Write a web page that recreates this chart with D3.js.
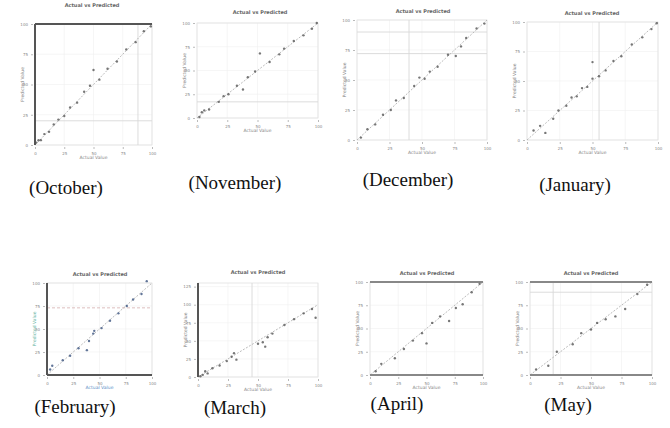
<!DOCTYPE html>
<html>
<head>
<meta charset="utf-8">
<script src="https://cdn.jsdelivr.net/npm/d3@7"></script>
<style>
  body { margin: 0; background: #fff; }
  svg { display: block; }
</style>
</head>
<body>
<div id="chart"></div>
<script>
// Month captions
const months = ["October", "November", "December", "January", "February", "March", "April", "May"];

const octActual = [1, 3, 5, 8, 12, 16, 20, 25, 30, 36, 42, 47, 50, 55, 62, 70, 78, 86, 93, 99];
const octPred   = [2, 4, 4, 9, 11, 17, 21, 24, 31, 35, 44, 49, 62, 54, 63, 69, 79, 85, 94, 98];
const novActual = [2, 4, 6, 10, 18, 22, 26, 33, 38, 42, 48, 52, 60, 68, 72, 80, 88, 95, 99];
const novPred   = [1, 6, 8, 9, 17, 23, 25, 34, 30, 43, 49, 68, 59, 67, 73, 81, 87, 94, 100];
const decActual = [3, 8, 14, 20, 26, 30, 36, 44, 48, 52, 56, 62, 70, 76, 80, 84, 92, 98];
const decPred   = [2, 9, 13, 21, 25, 33, 35, 45, 52, 51, 57, 61, 71, 70, 78, 85, 93, 97];
const janActual = [5, 10, 14, 20, 24, 30, 34, 38, 42, 46, 50, 50, 55, 60, 66, 72, 80, 88, 95, 99];
const janPred   = [8, 12, 6, 18, 25, 29, 36, 37, 44, 45, 52, 66, 54, 59, 67, 71, 81, 87, 94, 99];
const febActual = [3, 5, 15, 22, 30, 38, 40, 44, 45, 52, 60, 68, 76, 82, 90, 95];
const febPred   = [6, 10, 16, 21, 29, 27, 37, 45, 48, 51, 59, 67, 75, 82, 88, 104];
const marActual = [2, 4, 6, 8, 12, 18, 24, 28, 30, 32, 50, 54, 56, 58, 62, 72, 80, 88, 95, 98];
const marPred   = [1, 3, 8, 5, 12, 16, 22, 28, 33, 24, 46, 48, 42, 55, 60, 72, 80, 88, 94, 82];
const aprActual = [5, 10, 22, 30, 38, 46, 50, 55, 62, 70, 76, 82, 90, 97];
const aprPred   = [4, 12, 18, 28, 37, 45, 34, 56, 63, 58, 72, 76, 89, 98];
const mayActual = [5, 15, 22, 35, 42, 50, 55, 62, 70, 78, 88, 96];
const mayPred   = [6, 10, 25, 33, 45, 49, 56, 60, 63, 71, 87, 97];

const actuals = [octActual, novActual, decActual, janActual, febActual, marActual, aprActual, mayActual];
const preds   = [octPred, novPred, decPred, janPred, febPred, marPred, aprPred, mayPred];

// Tick labels on both axes
const tickVals = [0, 25, 50, 75, 100];
const marTickVals = [0, 25, 50, 75, 100, 125];

// Layout of each small panel
const panels = [
  { x0: 35,  x1: 152, y0: 24,  y1: 145, tx: 92,  ty: 7,   cx: 66,  cy: 194,
    thick: ["left", "top"], hl: [20], vl: [88] },
  { x0: 197, x1: 318, y0: 23,  y1: 118, tx: 260, ty: 14,  cx: 235, cy: 189,
    thick: [], hl: [17], vl: [] },
  { x0: 357, x1: 487, y0: 20,  y1: 140, tx: 423, ty: 13,  cx: 408, cy: 186,
    thick: [], hl: [90, 72], vl: [40] },
  { x0: 527, x1: 658, y0: 22,  y1: 140, tx: 592, ty: 15,  cx: 575, cy: 191,
    thick: [], hl: [], vl: [55] },
  { x0: 47,  x1: 152, y0: 283, y1: 375, tx: 100, ty: 276, cx: 75,  cy: 413,
    thick: ["left", "bottom"], hl: [73], vl: [], dash: true, blue: true },
  { x0: 198, x1: 318, y0: 283, y1: 377, tx: 258, ty: 274, cx: 235, cy: 414,
    thick: ["left"], hl: [], vl: [45], yMax: 130 },
  { x0: 370, x1: 483, y0: 282, y1: 375, tx: 427, ty: 275, cx: 397, cy: 410,
    thick: ["top", "bottom"], hl: [], vl: [] },
  { x0: 530, x1: 652, y0: 282, y1: 375, tx: 591, ty: 275, cx: 568, cy: 411,
    thick: ["top", "bottom"], hl: [89], vl: [19] }
];

const svg = d3.select("#chart")
  .append("svg")
  .attr("width", 670)
  .attr("height", 428);

panels.forEach((p, i) => {
  const g = svg.append("g");
  const yMax = p.yMax || 100;
  const yTicks = p.yMax ? marTickVals : tickVals;

  const x = d3.scaleLinear().domain([0, 100]).range([p.x0, p.x1]);
  const y = d3.scaleLinear().domain([0, yMax]).range([p.y1, p.y0]);

  // faint grid
  tickVals.forEach(t => {
    g.append("line")
      .attr("x1", x(t)).attr("x2", x(t))
      .attr("y1", p.y0).attr("y2", p.y1)
      .attr("stroke", "#f0f0f0").attr("stroke-width", 0.6);
  });
  yTicks.forEach(t => {
    g.append("line")
      .attr("x1", p.x0).attr("x2", p.x1)
      .attr("y1", y(t)).attr("y2", y(t))
      .attr("stroke", "#f0f0f0").attr("stroke-width", 0.6);
  });

  // light frame
  g.append("rect")
    .attr("x", p.x0).attr("y", p.y0)
    .attr("width", p.x1 - p.x0).attr("height", p.y1 - p.y0)
    .attr("fill", "none")
    .attr("stroke", "#e2e2e2")
    .attr("stroke-width", 0.8);

  // reference lines
  p.hl.forEach(v => {
    g.append("line")
      .attr("x1", p.x0).attr("x2", p.x1)
      .attr("y1", y(v)).attr("y2", y(v))
      .attr("stroke", p.dash ? "#d9b8b8" : "#d8d8d8")
      .attr("stroke-width", 0.9)
      .attr("stroke-dasharray", p.dash ? "3,2" : null);
  });
  p.vl.forEach(v => {
    g.append("line")
      .attr("x1", x(v)).attr("x2", x(v))
      .attr("y1", p.y0).attr("y2", p.y1)
      .attr("stroke", "#d8d8d8")
      .attr("stroke-width", 0.9);
  });

  // diagonal y = x
  g.append("line")
    .attr("x1", x(0)).attr("y1", y(0))
    .attr("x2", x(100)).attr("y2", y(100))
    .attr("stroke", "#aaa")
    .attr("stroke-width", 0.8)
    .attr("stroke-dasharray", "2,1.5");

  // thick axis borders
  const sides = {
    left:   [p.x0, p.y0, p.x0, p.y1],
    right:  [p.x1, p.y0, p.x1, p.y1],
    top:    [p.x0, p.y0, p.x1, p.y0],
    bottom: [p.x0, p.y1, p.x1, p.y1]
  };
  p.thick.forEach(s => {
    const c = sides[s];
    g.append("line")
      .attr("x1", c[0]).attr("y1", c[1])
      .attr("x2", c[2]).attr("y2", c[3])
      .attr("stroke", i >= 6 ? "#888" : "#555")
      .attr("stroke-width", 2);
  });

  // points
  const pts = actuals[i].map((a, k) => ({ a: a, p: preds[i][k] }));
  g.selectAll("circle")
    .data(pts)
    .enter()
    .append("circle")
    .attr("cx", d => x(d.a))
    .attr("cy", d => y(Math.min(d.p, yMax + 2)))
    .attr("r", 1.2)
    .attr("fill", p.blue ? "#3b5480" : "#555")
    .attr("opacity", 0.8);

  // axes (tick labels only)
  const xa = g.append("g")
    .attr("transform", `translate(0,${p.y1 + 2})`)
    .call(d3.axisBottom(x).tickValues(tickVals).tickSize(2));
  const ya = g.append("g")
    .attr("transform", `translate(${p.x0 - 2},0)`)
    .call(d3.axisLeft(y).tickValues(yTicks).tickSize(2));
  [xa, ya].forEach(a => {
    a.select(".domain").remove();
    a.selectAll("line").attr("stroke", "#bbb");
    a.selectAll("text")
      .attr("fill", "#888")
      .style("font-family", "DejaVu Sans")
      .style("font-size", "4px");
  });

  // axis labels
  g.append("text")
    .attr("x", (p.x0 + p.x1) / 2)
    .attr("y", p.y1 + 14)
    .style("text-anchor", "middle")
    .style("font-family", "DejaVu Sans")
    .style("font-size", "4.5px")
    .attr("fill", p.blue ? "#5b8fc7" : "#888")
    .text("Actual Value");

  g.append("text")
    .attr("x", -(p.y0 + p.y1) / 2)
    .attr("y", p.x0 - 11)
    .attr("transform", "rotate(-90)")
    .style("text-anchor", "middle")
    .style("font-family", "DejaVu Sans")
    .style("font-size", "4.5px")
    .attr("fill", p.blue ? "#6cb8a8" : "#888")
    .text("Predicted Value");

  // panel title
  g.append("text")
    .attr("x", p.tx)
    .attr("y", p.ty)
    .style("text-anchor", "middle")
    .style("font-family", "DejaVu Sans")
    .style("font-size", "5px")
    .style("font-weight", "bold")
    .attr("fill", "#666")
    .text("Actual vs Predicted");

  // caption
  svg.append("text")
    .attr("x", p.cx)
    .attr("y", p.cy)
    .style("text-anchor", "middle")
    .style("font-family", "Liberation Serif")
    .style("font-size", "19px")
    .attr("fill", "#111")
    .text("(" + months[i] + ")");
});
</script>
</body>
</html>
